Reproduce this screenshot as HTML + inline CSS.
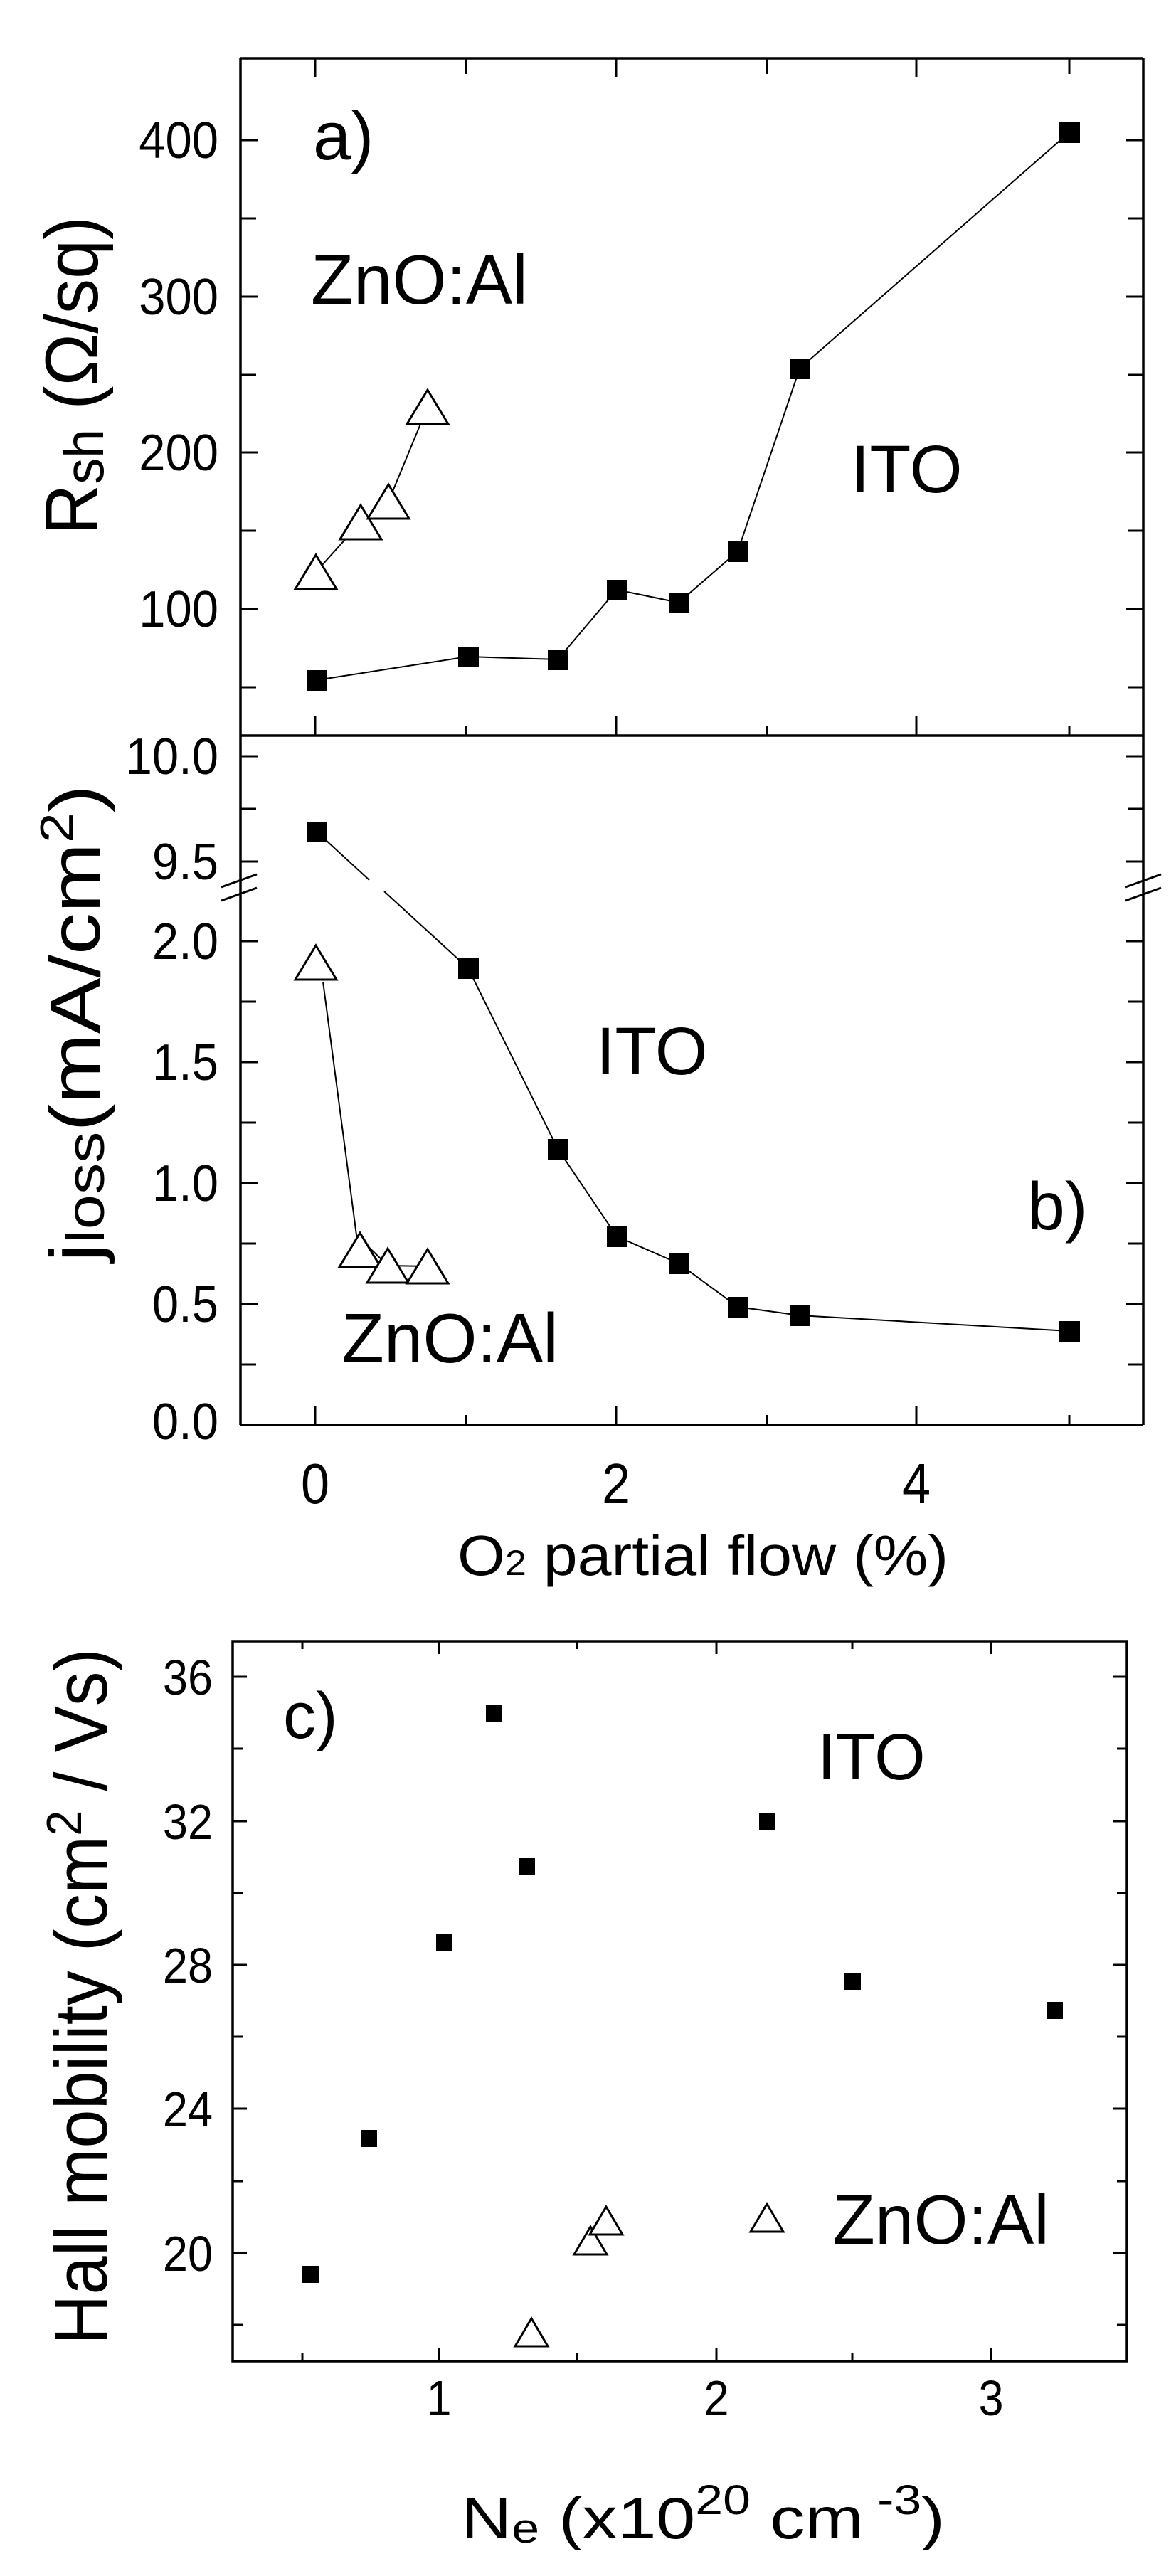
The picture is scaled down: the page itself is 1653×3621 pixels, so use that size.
<!DOCTYPE html>
<html><head><meta charset="utf-8"><style>
html,body{margin:0;padding:0;background:#fff;}
svg{display:block;}
text{font-family:"Liberation Sans",Arial,sans-serif;fill:#000;}
</style></head><body>
<svg width="1653" height="3621" viewBox="0 0 1653 3621" xmlns="http://www.w3.org/2000/svg">
<rect width="1653" height="3621" fill="#fff"/>

<!-- ===== Panel a/b frame ===== -->
<g stroke="#000" stroke-width="3.5" fill="none">
  <line x1="338" y1="82" x2="1607" y2="82"/>
  <line x1="338" y1="1034" x2="1607" y2="1034"/>
  <line x1="338" y1="2003" x2="1607" y2="2003"/>
  <line x1="338" y1="82" x2="338" y2="2003"/>
  <line x1="1607" y1="82" x2="1607" y2="2003"/>
</g>
<g stroke="#000" stroke-width="3">
  <!-- break slashes -->
  <line x1="311" y1="1247" x2="361" y2="1229"/>
  <line x1="311" y1="1266" x2="361" y2="1248"/>
  <line x1="1582" y1="1247" x2="1632" y2="1229"/>
  <line x1="1582" y1="1266" x2="1632" y2="1248"/>
</g>
<g stroke="#000" stroke-width="3">
  <!-- top ticks panel a -->
  <line x1="443" y1="82" x2="443" y2="108"/><line x1="655" y1="82" x2="655" y2="104"/>
  <line x1="866" y1="82" x2="866" y2="108"/><line x1="1078" y1="82" x2="1078" y2="104"/>
  <line x1="1288" y1="82" x2="1288" y2="108"/><line x1="1503" y1="82" x2="1503" y2="104"/>
  <!-- bottom ticks panel a (up from split) -->
  <line x1="443" y1="1034" x2="443" y2="1007"/><line x1="655" y1="1034" x2="655" y2="1020"/>
  <line x1="866" y1="1034" x2="866" y2="1007"/><line x1="1078" y1="1034" x2="1078" y2="1020"/>
  <line x1="1288" y1="1034" x2="1288" y2="1007"/><line x1="1503" y1="1034" x2="1503" y2="1020"/>
  <!-- bottom ticks panel b -->
  <line x1="443" y1="2003" x2="443" y2="1976"/><line x1="655" y1="2003" x2="655" y2="1989"/>
  <line x1="866" y1="2003" x2="866" y2="1976"/><line x1="1078" y1="2003" x2="1078" y2="1989"/>
  <line x1="1288" y1="2003" x2="1288" y2="1976"/><line x1="1503" y1="2003" x2="1503" y2="1989"/>
  <!-- panel a y ticks: 100 per 219.7 px, 100 at 856 -->
  <line x1="338" y1="197" x2="362" y2="197"/><line x1="1607" y1="197" x2="1583" y2="197"/>
  <line x1="338" y1="417" x2="362" y2="417"/><line x1="1607" y1="417" x2="1583" y2="417"/>
  <line x1="338" y1="636" x2="362" y2="636"/><line x1="1607" y1="636" x2="1583" y2="636"/>
  <line x1="338" y1="856" x2="362" y2="856"/><line x1="1607" y1="856" x2="1583" y2="856"/>
  <line x1="338" y1="307" x2="360" y2="307"/><line x1="1607" y1="307" x2="1585" y2="307"/>
  <line x1="338" y1="527" x2="360" y2="527"/><line x1="1607" y1="527" x2="1585" y2="527"/>
  <line x1="338" y1="746" x2="360" y2="746"/><line x1="1607" y1="746" x2="1585" y2="746"/>
  <line x1="338" y1="966" x2="360" y2="966"/><line x1="1607" y1="966" x2="1585" y2="966"/>
  <!-- panel b upper ticks -->
  <line x1="338" y1="1063" x2="362" y2="1063"/><line x1="1607" y1="1063" x2="1583" y2="1063"/>
  <line x1="338" y1="1137" x2="360" y2="1137"/><line x1="1607" y1="1137" x2="1585" y2="1137"/>
  <line x1="338" y1="1211" x2="362" y2="1211"/><line x1="1607" y1="1211" x2="1583" y2="1211"/>
  <!-- panel b lower ticks: 0 at 2003, 2.0 at 1323 -->
  <line x1="338" y1="1323" x2="362" y2="1323"/><line x1="1607" y1="1323" x2="1583" y2="1323"/>
  <line x1="338" y1="1408" x2="360" y2="1408"/><line x1="1607" y1="1408" x2="1585" y2="1408"/>
  <line x1="338" y1="1493" x2="362" y2="1493"/><line x1="1607" y1="1493" x2="1583" y2="1493"/>
  <line x1="338" y1="1578" x2="360" y2="1578"/><line x1="1607" y1="1578" x2="1585" y2="1578"/>
  <line x1="338" y1="1663" x2="362" y2="1663"/><line x1="1607" y1="1663" x2="1583" y2="1663"/>
  <line x1="338" y1="1748" x2="360" y2="1748"/><line x1="1607" y1="1748" x2="1585" y2="1748"/>
  <line x1="338" y1="1833" x2="362" y2="1833"/><line x1="1607" y1="1833" x2="1583" y2="1833"/>
  <line x1="338" y1="1918" x2="360" y2="1918"/><line x1="1607" y1="1918" x2="1585" y2="1918"/>
</g>

<!-- tick labels panel a/b -->
<g font-size="72" text-anchor="end">
  <text transform="translate(307,222) scale(0.93,1)">400</text>
  <text transform="translate(307,442) scale(0.93,1)">300</text>
  <text transform="translate(307,661) scale(0.93,1)">200</text>
  <text transform="translate(307,881) scale(0.93,1)">100</text>
  <text transform="translate(307,1088) scale(0.93,1)">10.0</text>
  <text transform="translate(307,1236) scale(0.93,1)">9.5</text>
  <text transform="translate(307,1348) scale(0.93,1)">2.0</text>
  <text transform="translate(307,1518) scale(0.93,1)">1.5</text>
  <text transform="translate(307,1688) scale(0.93,1)">1.0</text>
  <text transform="translate(307,1858) scale(0.93,1)">0.5</text>
  <text transform="translate(307,2023) scale(0.93,1)">0.0</text>
</g>
<g font-size="80" text-anchor="middle">
  <text transform="translate(443,2113) scale(0.9,1)">0</text>
  <text transform="translate(866,2113) scale(0.9,1)">2</text>
  <text transform="translate(1288,2113) scale(0.9,1)">4</text>
</g>

<!-- axis titles a/b -->
<text transform="translate(137,752) rotate(-90)" font-size="105" textLength="448" lengthAdjust="spacingAndGlyphs">R<tspan font-size="78" dy="8">sh</tspan><tspan dy="-8"> (Ω/sq)</tspan></text>
<text transform="translate(140,1774) rotate(-90)" font-size="100" textLength="671" lengthAdjust="spacingAndGlyphs">j<tspan font-size="75" dy="6">loss</tspan><tspan dy="-6">(mA/cm</tspan><tspan font-size="65" dy="-38">2</tspan><tspan dy="38">)</tspan></text>
<text x="643" y="2214" font-size="80" textLength="690" lengthAdjust="spacingAndGlyphs">O<tspan font-size="50">2</tspan> partial flow (%)</text>

<!-- annotations a/b -->
<text x="440" y="224" font-size="96">a)</text>
<text x="437" y="427" font-size="98">ZnO:Al</text>
<text x="1196" y="692" font-size="95">ITO</text>
<text x="838" y="1510" font-size="95">ITO</text>
<text x="1444" y="1728" font-size="95">b)</text>
<text x="480" y="1915" font-size="98">ZnO:Al</text>

<!-- panel a data -->
<g stroke="#000" stroke-width="2" fill="none">
  <polyline points="445,956 658,923 784,927 867,829 954,847 1037,775 1124,518 1503,186"/>
  <polyline points="444,804 507,734 546,705 601,572"/>
</g>
<g fill="#000">
  <rect x="431" y="942" width="29" height="29"/>
  <rect x="644" y="909" width="29" height="29"/>
  <rect x="770" y="913" width="29" height="29"/>
  <rect x="853" y="815" width="29" height="29"/>
  <rect x="940" y="833" width="29" height="29"/>
  <rect x="1023" y="761" width="29" height="29"/>
  <rect x="1110" y="504" width="29" height="29"/>
  <rect x="1489" y="172" width="29" height="29"/>
</g>
<g stroke="#000" stroke-width="3" fill="#fff">
  <polygon points="444,780 473,828 415,828"/>
  <polygon points="507,710 536,758 478,758"/>
  <polygon points="546,681 575,729 517,729"/>
  <polygon points="601,548 630,596 572,596"/>
</g>

<!-- panel b data -->
<g stroke="#000" stroke-width="2" fill="none">
  <line x1="445" y1="1169" x2="519" y2="1237"/>
  <line x1="540" y1="1253" x2="658" y2="1361"/>
  <polyline points="658,1361 784,1615 867,1738 954,1776 1037,1837 1124,1849 1503,1871"/>
  <polyline points="454,1380 501,1736 545,1779 601,1780"/>
</g>
<g fill="#000">
  <rect x="431" y="1155" width="29" height="29"/>
  <rect x="644" y="1347" width="29" height="29"/>
  <rect x="770" y="1601" width="29" height="29"/>
  <rect x="853" y="1724" width="29" height="29"/>
  <rect x="940" y="1762" width="29" height="29"/>
  <rect x="1023" y="1823" width="29" height="29"/>
  <rect x="1110" y="1835" width="29" height="29"/>
  <rect x="1489" y="1857" width="29" height="29"/>
</g>
<g stroke="#000" stroke-width="3" fill="#fff">
  <polygon points="444,1329 473,1377 415,1377"/>
  <polygon points="506,1733 535,1781 477,1781"/>
  <polygon points="545,1755 574,1803 516,1803"/>
  <polygon points="601,1756 630,1804 572,1804"/>
</g>

<!-- ===== Panel c ===== -->
<g stroke="#000" stroke-width="3.5" fill="none">
  <rect x="327" y="2307" width="1257" height="1012"/>
</g>
<g stroke="#000" stroke-width="3">
  <!-- x ticks top and bottom -->
  <line x1="425" y1="3319" x2="425" y2="3308"/><line x1="425" y1="2307" x2="425" y2="2318"/>
  <line x1="617" y1="3319" x2="617" y2="3301"/><line x1="617" y1="2307" x2="617" y2="2325"/>
  <line x1="811" y1="3319" x2="811" y2="3308"/><line x1="811" y1="2307" x2="811" y2="2318"/>
  <line x1="1007" y1="3319" x2="1007" y2="3301"/><line x1="1007" y1="2307" x2="1007" y2="2325"/>
  <line x1="1198" y1="3319" x2="1198" y2="3308"/><line x1="1198" y1="2307" x2="1198" y2="2318"/>
  <line x1="1393" y1="3319" x2="1393" y2="3301"/><line x1="1393" y1="2307" x2="1393" y2="2325"/>
  <!-- y ticks: 20 at 3167, per unit 50.6 -->
  <line x1="327" y1="2357" x2="347" y2="2357"/><line x1="1584" y1="2357" x2="1564" y2="2357"/>
  <line x1="327" y1="2458" x2="341" y2="2458"/><line x1="1584" y1="2458" x2="1570" y2="2458"/>
  <line x1="327" y1="2560" x2="347" y2="2560"/><line x1="1584" y1="2560" x2="1564" y2="2560"/>
  <line x1="327" y1="2661" x2="341" y2="2661"/><line x1="1584" y1="2661" x2="1570" y2="2661"/>
  <line x1="327" y1="2762" x2="347" y2="2762"/><line x1="1584" y1="2762" x2="1564" y2="2762"/>
  <line x1="327" y1="2863" x2="341" y2="2863"/><line x1="1584" y1="2863" x2="1570" y2="2863"/>
  <line x1="327" y1="2964" x2="347" y2="2964"/><line x1="1584" y1="2964" x2="1564" y2="2964"/>
  <line x1="327" y1="3066" x2="341" y2="3066"/><line x1="1584" y1="3066" x2="1570" y2="3066"/>
  <line x1="327" y1="3167" x2="347" y2="3167"/><line x1="1584" y1="3167" x2="1564" y2="3167"/>
  <line x1="327" y1="3268" x2="341" y2="3268"/><line x1="1584" y1="3268" x2="1570" y2="3268"/>
</g>
<g font-size="70" text-anchor="end">
  <text transform="translate(299,2382) scale(0.9,1)">36</text>
  <text transform="translate(299,2585) scale(0.9,1)">32</text>
  <text transform="translate(299,2787) scale(0.9,1)">28</text>
  <text transform="translate(299,2989) scale(0.9,1)">24</text>
  <text transform="translate(299,3192) scale(0.9,1)">20</text>
</g>
<g font-size="70" text-anchor="middle">
  <text transform="translate(617,3395) scale(0.9,1)">1</text>
  <text transform="translate(1007,3395) scale(0.9,1)">2</text>
  <text transform="translate(1393,3395) scale(0.9,1)">3</text>
</g>
<text transform="translate(150,3296) rotate(-90)" font-size="105" textLength="979" lengthAdjust="spacingAndGlyphs">Hall mobility (cm<tspan font-size="70" dy="-36">2</tspan><tspan dy="36"> / Vs)</tspan></text>
<text x="648" y="3568" font-size="82" textLength="680" lengthAdjust="spacingAndGlyphs">N<tspan font-size="58" dy="6">e</tspan><tspan dy="-6">  (x10</tspan><tspan font-size="58" dy="-34">20</tspan><tspan dy="34"> cm</tspan><tspan font-size="58" dy="-34"> -3</tspan><tspan dy="34">)</tspan></text>

<text x="398" y="2443" font-size="92">c)</text>
<text x="1149" y="2501" font-size="92">ITO</text>
<text x="1170" y="3154" font-size="98">ZnO:Al</text>

<g fill="#000">
  <rect x="425" y="3185" width="23" height="24"/>
  <rect x="507" y="2994" width="23" height="24"/>
  <rect x="613" y="2718" width="23" height="24"/>
  <rect x="683" y="2397" width="23" height="24"/>
  <rect x="729" y="2612" width="23" height="24"/>
  <rect x="1067" y="2548" width="23" height="24"/>
  <rect x="1187" y="2773" width="23" height="24"/>
  <rect x="1471" y="2814" width="23" height="24"/>
</g>
<g stroke="#000" stroke-width="3" fill="#fff">
  <polygon points="747,3259 770,3298 724,3298"/>
  <polygon points="830,3130 853,3169 807,3169"/>
  <polygon points="852,3102 875,3141 829,3141"/>
  <polygon points="1078,3098 1101,3137 1055,3137"/>
</g>
</svg>
</body></html>
